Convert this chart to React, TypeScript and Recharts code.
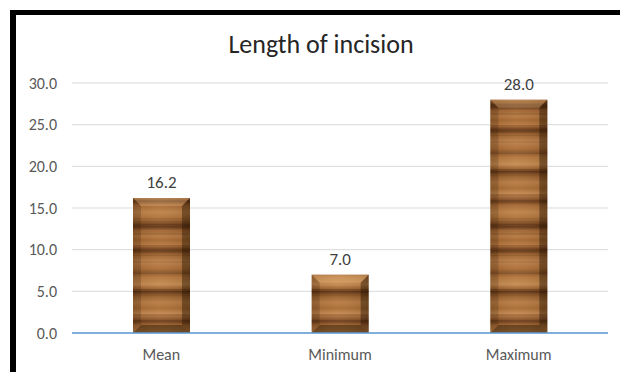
import React, { useEffect } from 'react';
import { BarChart, Bar, XAxis, YAxis, CartesianGrid, LabelList } from 'recharts';

const categories = ['Mean', 'Minimum', 'Maximum'];
const lengthValues = [16.2, 7.0, 28.0];
const yTicks = [0, 5, 10, 15, 20, 25, 30];

const chartData = categories.map((name, i) => ({ name, value: lengthValues[i] }));

const FONT = 'Carlito, Calibri, Lato, "Noto Sans", sans-serif';

// wood grain colour stops (offset %, colour) for one tile of the bar texture
const grainStops: [number, string][] = [
  [0, '#a5672f'],
  [4, '#b8783f'],
  [7, '#7c461d'],
  [9, '#623614'],
  [12, '#9c602c'],
  [18, '#bd8148'],
  [24, '#ab6c35'],
  [27, '#8c5527'],
  [31, '#b4763c'],
  [37, '#c58a50'],
  [41, '#975c28'],
  [43, '#5c3112'],
  [46, '#925927'],
  [52, '#b77b42'],
  [57, '#a96b33'],
  [61, '#c4874d'],
  [65, '#9a5f31'],
  [68, '#703e19'],
  [71, '#a66832'],
  [77, '#bf8248'],
  [82, '#ad6f37'],
  [86, '#7e4a20'],
  [89, '#603414'],
  [92, '#a06330'],
  [97, '#b5783f'],
  [100, '#a5672f'],
];

// thin darker streaks laid over the grain: [y, height, opacity]
const streaks: [number, number, number][] = [
  [5, 1, 0.18],
  [15, 1, 0.12],
  [21, 2, 0.1],
  [33, 1, 0.15],
  [49, 1, 0.2],
  [55, 1, 0.1],
  [74, 2, 0.12],
  [80, 1, 0.16],
  [98, 1, 0.12],
  [104, 1, 0.18],
  [113, 2, 0.1],
];

const BEVEL = 8;

function WoodBar(props: any) {
  const { x, y, width, height } = props;
  if (!height || height <= 0) return null;
  const b = Math.min(BEVEL, width / 2, height / 2);
  const r = x + width;
  const bt = y + height;
  return (
    <g>
      <rect x={x} y={y} width={width} height={height} fill="url(#woodGrain)" />
      <rect x={x} y={y} width={width} height={height} fill="url(#woodShade)" />
      <polygon
        points={`${x},${y} ${r},${y} ${r - b},${y + b} ${x + b},${y + b}`}
        fill="rgba(255,210,150,0.28)"
      />
      <polygon
        points={`${x},${y} ${x + b},${y + b} ${x + b},${bt - b} ${x},${bt}`}
        fill="rgba(40,20,5,0.18)"
      />
      <polygon
        points={`${r},${y} ${r},${bt} ${r - b},${bt - b} ${r - b},${y + b}`}
        fill="rgba(30,15,0,0.4)"
      />
      <polygon
        points={`${x},${bt} ${x + b},${bt - b} ${r - b},${bt - b} ${r},${bt}`}
        fill="rgba(30,15,0,0.45)"
      />
    </g>
  );
}

export default function App() {
  useEffect(() => {
    document.documentElement.style.overflow = 'hidden';
    document.body.style.overflow = 'hidden';
    document.body.style.background = '#fff';
  }, []);

  return (
    <div
      style={{
        position: 'fixed',
        left: 0,
        top: 0,
        width: 620,
        height: 372,
        overflow: 'hidden',
        background: '#fff',
        fontFamily: FONT,
      }}
    >
      <div
        style={{
          position: 'absolute',
          left: 10,
          top: 10,
          width: 620,
          height: 372,
          boxSizing: 'border-box',
          borderLeft: '6px solid #000',
          borderTop: '5px solid #000',
        }}
      />
      <div
        style={{
          position: 'absolute',
          left: 121,
          width: 400,
          top: 28,
          textAlign: 'center',
          fontSize: 26,
          color: '#262626',
          lineHeight: '32px',
        }}
      >
        Length of incision
      </div>
      <div style={{ position: 'absolute', left: 0, top: 0 }}>
        <BarChart
          width={620}
          height={372}
          data={chartData}
          margin={{ top: 83, right: 12, bottom: 0, left: 18 }}
        >
          <defs>
            <linearGradient id="grainGrad" x1="0" y1="0" x2="0" y2="1">
              {grainStops.map(([o, c], i) => (
                <stop key={i} offset={`${o}%`} stopColor={c} />
              ))}
            </linearGradient>
            <pattern id="woodGrain" patternUnits="userSpaceOnUse" width={60} height={120}>
              <rect x={0} y={0} width={60} height={120} fill="url(#grainGrad)" />
              {streaks.map(([sy, sh, op], i) => (
                <rect key={i} x={0} y={sy} width={60} height={sh} fill="#2e1808" opacity={op} />
              ))}
            </pattern>
            <linearGradient id="woodShade" x1="0" y1="0" x2="1" y2="0">
              <stop offset="0%" stopColor="#000" stopOpacity={0.08} />
              <stop offset="45%" stopColor="#fff" stopOpacity={0.05} />
              <stop offset="100%" stopColor="#000" stopOpacity={0.1} />
            </linearGradient>
          </defs>
          <CartesianGrid vertical={false} stroke="#d9d9d9" strokeWidth={1} />
          <XAxis
            dataKey="name"
            axisLine={{ stroke: '#5b9bd5', strokeWidth: 1.5 }}
            tickLine={false}
            tickSize={0}
            tickMargin={16}
            height={39}
            tick={{ fontSize: 16, fill: '#595959', fontFamily: FONT }}
          />
          <YAxis
            domain={[0, 30]}
            ticks={yTicks}
            interval={0}
            axisLine={false}
            tickLine={false}
            tickSize={0}
            tickMargin={15}
            width={54}
            tickFormatter={(v: number) => v.toFixed(1)}
            tick={{ fontSize: 16, fill: '#595959', fontFamily: FONT }}
          />
          <Bar dataKey="value" barSize={57} shape={<WoodBar />} isAnimationActive={false}>
            <LabelList
              dataKey="value"
              position="top"
              offset={10}
              formatter={(v: number) => v.toFixed(1)}
              style={{ fontSize: 17, fill: '#404040', fontFamily: FONT }}
            />
          </Bar>
        </BarChart>
      </div>
    </div>
  );
}
